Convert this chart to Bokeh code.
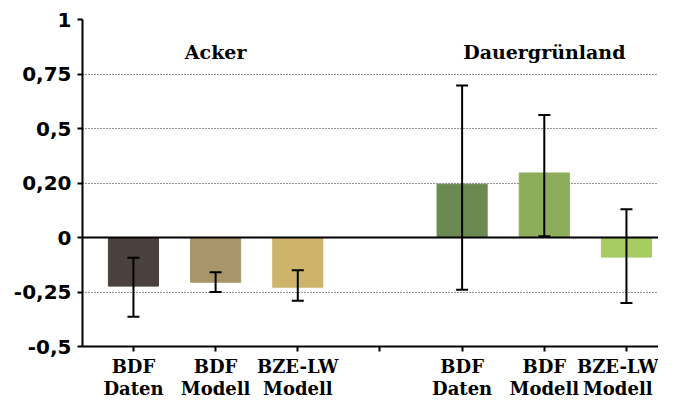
from bokeh.plotting import figure
from bokeh.models import Range1d, FixedTicker, Span, Whisker, ColumnDataSource, TeeHead
from bokeh.core.properties import value
from bokeh.embed import file_html
from bokeh.resources import INLINE

categories = ["BDF\nDaten", "BDF\nModell", "BZE-LW\nModell", "", "BDF\nDaten", "BDF\nModell", "BZE-LW\nModell"]
bar_index = [0, 1, 2, 4, 5, 6]
values = [-0.223, -0.205, -0.228, 0.244, 0.296, -0.09]
err_low = [-0.364, -0.25, -0.29, -0.24, 0.006, -0.30]
err_high = [-0.093, -0.159, -0.15, 0.697, 0.5625, 0.13]
colors = ["#4a403c", "#a8956a", "#cdb46a", "#6b8a52", "#8cae5c", "#a6cc62"]
groups = ["Acker", "Dauergrünland"]
group_index = [1, 5]
group_y = [0.85, 0.85]
y_ticks = [-0.5, -0.25, 0, 0.25, 0.5, 0.75, 1]
y_tick_labels = ["-0,5", "-0,25", "0", "0,20", "0,5", "0,75", "1"]

p = figure(width=658, height=401, output_backend="svg", toolbar_location=None,
           x_range=Range1d(-0.62, 6.39), y_range=Range1d(-0.5, 1.0),
           min_border_left=82, min_border_right=0, min_border_top=19, min_border_bottom=49)
p.outline_line_color = None
p.background_fill_color = "white"
p.border_fill_color = "white"

src = ColumnDataSource(dict(x=bar_index, top=values, lo=err_low, hi=err_high, color=colors))
p.vbar(x="x", top="top", bottom=0, width=0.61, color="color", source=src)

p.add_layout(Span(location=0, dimension="width", line_color="black", line_width=2))

w = Whisker(base="x", lower="lo", upper="hi", source=src, line_color="black", line_width=2,
            level="overlay",
            upper_head=TeeHead(size=12, line_width=2, line_color="black"),
            lower_head=TeeHead(size=12, line_width=2, line_color="black"))
p.add_layout(w)

p.text(x=group_index, y=group_y, text=groups, text_align="center", text_baseline="middle",
       text_font=value("DejaVu Serif"), text_font_style="bold", text_font_size="19px",
       text_color="black")

p.xgrid.visible = False
p.ygrid.ticker = FixedTicker(ticks=y_ticks)
p.ygrid.grid_line_color = "#222222"
p.ygrid.grid_line_dash = "1 2"
p.ygrid.grid_line_width = 1

p.yaxis.ticker = FixedTicker(ticks=y_ticks)
p.yaxis.major_label_overrides = {t: l for t, l in zip(y_ticks, y_tick_labels)}
p.yaxis.major_label_text_font = "DejaVu Sans"
p.yaxis.major_label_text_font_style = "bold"
p.yaxis.major_label_text_font_size = "20px"
p.yaxis.major_label_text_color = "black"
p.yaxis.major_label_standoff = 6
p.yaxis.major_tick_out = 5
p.yaxis.major_tick_in = 0
p.yaxis.minor_tick_line_color = None
p.yaxis.axis_line_width = 2
p.yaxis.major_tick_line_width = 2

p.xaxis.ticker = FixedTicker(ticks=list(range(len(categories))))
p.xaxis.major_label_overrides = {i: c for i, c in enumerate(categories)}
p.xaxis.major_label_text_font = "DejaVu Serif"
p.xaxis.major_label_text_font_style = "bold"
p.xaxis.major_label_text_font_size = "18px"
p.xaxis.major_label_text_color = "black"
p.xaxis.major_label_text_line_height = 1.05
p.xaxis.major_label_standoff = 4
p.xaxis.major_tick_out = 5
p.xaxis.major_tick_in = 0
p.xaxis.minor_tick_line_color = None
p.xaxis.axis_line_width = 2
p.xaxis.major_tick_line_width = 2

open("out.html", "w").write(file_html(p, INLINE))
